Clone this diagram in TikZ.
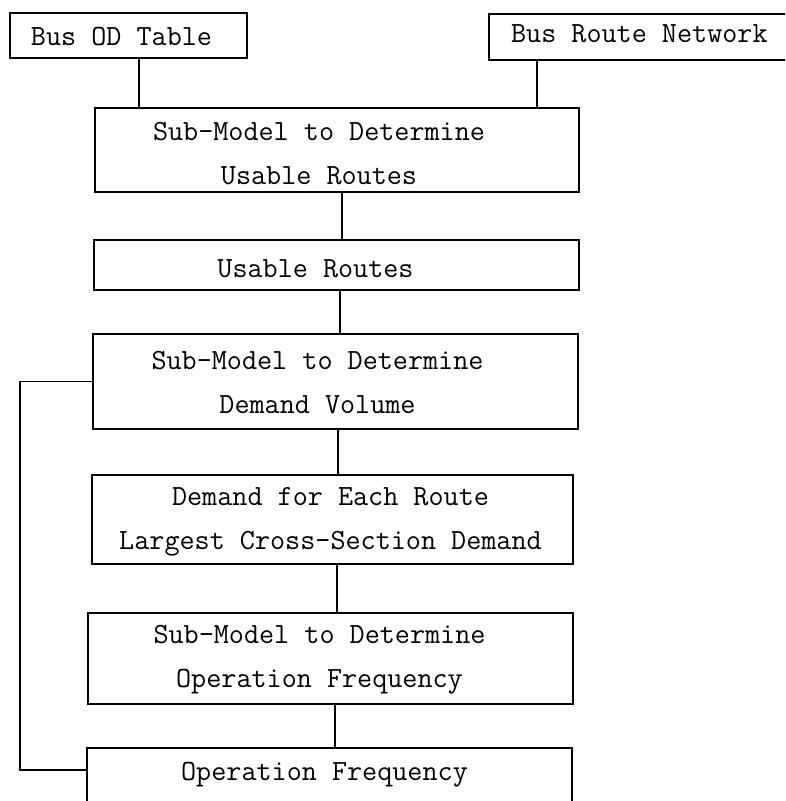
\documentclass[tikz,border=0pt]{standalone}
\usepackage{tikz}

\begin{document}
\begin{tikzpicture}[x=1pt,y=-1pt,
  every node/.style={font=\fontsize{29.3}{44}\selectfont\ttfamily},
  blk/.style={draw,line width=2.2pt,inner sep=0pt},
  lbl/.style={align=center,inner sep=0pt},
  link/.style={line width=1.8pt}
]
  \useasboundingbox (0,0) rectangle (785,801);
  \clip (0,0) rectangle (785,801);

  % inputs
  \node[blk,minimum width=237pt,minimum height=45pt] (odtab) at (128.5,35.5) {};
  \node[lbl] (odtabtxt) at ([xshift=-7pt,yshift=-1pt]odtab.center) {Bus OD Table};
  \node[blk,minimum width=316pt,minimum height=46pt] (network) at (647,37) {};
  \node[lbl,anchor=west] (networktxt) at ([xshift=23pt,yshift=3pt]network.west) {Bus Route Network};

  % chain of sub-models and their outputs
  \node[blk,minimum width=484pt,minimum height=84pt] (usemodel) at (337,150) {};
  \node[lbl] (usemodeltxt) at ([xshift=-18pt,yshift=-4pt]usemodel.center)
    {Sub-Model to Determine\\ Usable Routes};
  \node[blk,minimum width=485pt,minimum height=50pt] (usable) at (336.5,265) {};
  \node[lbl] (usabletxt) at ([xshift=-21pt,yshift=-4pt]usable.center) {Usable Routes};
  \node[blk,minimum width=485pt,minimum height=95pt] (demmodel) at (335.5,381.5) {};
  \node[lbl] (demmodeltxt) at ([xshift=-18pt,yshift=-1pt]demmodel.center)
    {Sub-Model to Determine\\ Demand Volume};
  \node[blk,minimum width=481pt,minimum height=89pt] (demand) at (332.5,519.5) {};
  \node[lbl] (demandtxt) at ([xshift=-2pt,yshift=-2pt]demand.center)
    {Demand for Each Route\\ Largest Cross-Section Demand};
  \node[blk,minimum width=485pt,minimum height=91pt] (freqmodel) at (330.5,658.5) {};
  \node[lbl] (freqmodeltxt) at ([xshift=-11pt,yshift=-1pt]freqmodel.center)
    {Sub-Model to Determine\\ Operation Frequency};
  \node[blk,minimum width=485pt,minimum height=58pt] (freq) at (329.5,777) {};
  \node[lbl] (freqtxt) at ([xshift=-5pt,yshift=2pt]freq.center) {Operation Frequency};

  % connectors
  \draw[link] (odtab.south -| 139,0) -- (usemodel.north -| 139,0);
  \draw[link] (network.south -| 537,0) -- (usemodel.north -| 537,0);
  \draw[link] (usemodel.south -| 342,0) -- (usable.north -| 342,0);
  \draw[link] (usable.south -| 340,0) -- (demmodel.north -| 340,0);
  \draw[link] (demmodel.south -| 338,0) -- (demand.north -| 338,0);
  \draw[link] (demand.south -| 337,0) -- (freqmodel.north -| 337,0);
  \draw[link] (freqmodel.south -| 335,0) -- (freq.north -| 335,0);

  % feedback of frequency into demand model
  \draw[link] ([yshift=7pt]freq.west) -- ++(-66,0) |- (demmodel.west);
\end{tikzpicture}
\end{document}
